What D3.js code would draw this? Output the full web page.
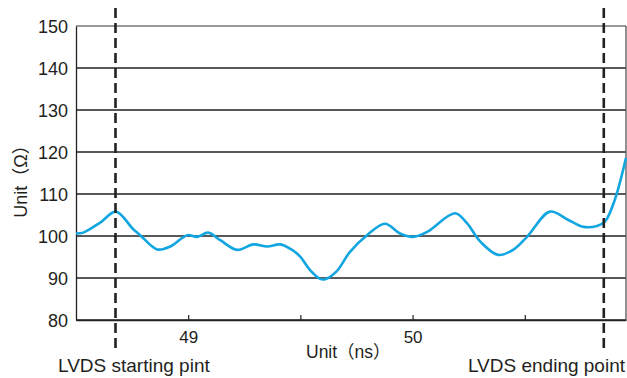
<!DOCTYPE html>
<html><head><meta charset="utf-8">
<script src="https://cdn.jsdelivr.net/npm/d3@7"></script>
<style>
html,body{margin:0;padding:0;background:#fff;}
text{font-family:"Liberation Sans",Arial,"Noto Sans CJK SC",sans-serif;fill:#231f20;}
</style></head>
<body>
<svg id="chart" width="627" height="378"></svg>
<script>
const timeNs = [48.50,48.532,48.608,48.678,48.755,48.786,48.862,48.920,48.996,49.040,49.089,49.143,49.218,49.290,49.352,49.410,49.463,49.499,49.543,49.588,49.610,49.660,49.722,49.797,49.877,49.944,50.002,50.065,50.189,50.243,50.301,50.381,50.448,50.510,50.612,50.688,50.759,50.822,50.857,50.901,50.951];
const impedance = [100.6,100.8,103.2,105.8,101.6,100.2,96.8,97.5,100.2,99.8,100.8,99.0,96.7,98.0,97.5,98.0,96.7,95.1,91.9,89.8,89.7,91.5,96.3,100.2,102.9,100.6,99.8,101.0,105.4,103.0,98.7,95.5,96.7,99.8,105.8,104.0,102.2,102.4,103.4,108.6,118.6];
const yTicks = [80,90,100,110,120,130,140,150];
const xTicks = [49,49.5,50,50.5];
const xTickLabels = ["49","","50",""];
const markers = [48.676,50.852];
const markerLabels = ["LVDS starting pint","LVDS ending point"];

const svg = d3.select("#chart");
const L=76, R=626, T=26, B=320;
const x = d3.scaleLinear().domain([48.5,50.951]).range([L,R]);
const y = d3.scaleLinear().domain([80,150]).range([B,T]);

// gridlines
svg.append("g").selectAll("line").data(yTicks).join("line")
  .attr("x1",L).attr("x2",R).attr("y1",d=>y(d)).attr("y2",d=>y(d))
  .attr("stroke",d=>d===150?"#777":"#222").attr("stroke-width",1.3);

// right border
svg.append("line").attr("x1",R).attr("x2",R).attr("y1",T).attr("y2",B).attr("stroke","#555").attr("stroke-width",1.3);

// y axis
const ya = svg.append("g").attr("transform",`translate(${L},0)`)
  .call(d3.axisLeft(y).tickValues(yTicks).tickSize(0).tickPadding(8));
ya.select(".domain").attr("stroke","#222").attr("stroke-width",1.3);
ya.selectAll("text").style("font-size","18px").attr("fill","#231f20").attr("dy","0.36em");

// x axis
const xa = svg.append("g").attr("transform",`translate(0,${B})`)
  .call(d3.axisTop(x).tickValues(xTicks).tickSize(5).tickFormat((d,i)=>xTickLabels[i]).tickSizeOuter(0));
xa.select(".domain").attr("stroke","#222").attr("stroke-width",1.3);
xa.selectAll(".tick line").attr("stroke","#222").attr("stroke-width",1.2);
xa.selectAll("text").style("font-size","17px").attr("fill","#231f20").attr("y",23).attr("dy","0");

// curve
const line = d3.line().x((d,i)=>x(timeNs[i])).y(d=>y(d)).curve(d3.curveCatmullRom.alpha(0.5));
svg.append("path").datum(impedance).attr("d",line).attr("fill","none")
  .attr("stroke","#12a6e0").attr("stroke-width",2.6);

// dashed markers
svg.append("g").selectAll("line").data(markers).join("line")
  .attr("x1",d=>x(d)).attr("x2",d=>x(d)).attr("y1",8).attr("y2",348)
  .attr("stroke","#222").attr("stroke-width",2.6).attr("stroke-dasharray","10,5");

// marker labels
svg.append("text").attr("x",58).attr("y",372).style("font-size","19px").text(markerLabels[0]);
svg.append("text").attr("x",625).attr("y",372).attr("text-anchor","end").style("font-size","19px").text(markerLabels[1]);

// axis titles
svg.append("text").attr("x",306).attr("y",358).style("font-size","17.5px").text("Unit（ns）");
svg.append("text").attr("transform","translate(27,177) rotate(-90)").attr("text-anchor","middle").style("font-size","18px").text("Unit（Ω）");
</script>
</body></html>
